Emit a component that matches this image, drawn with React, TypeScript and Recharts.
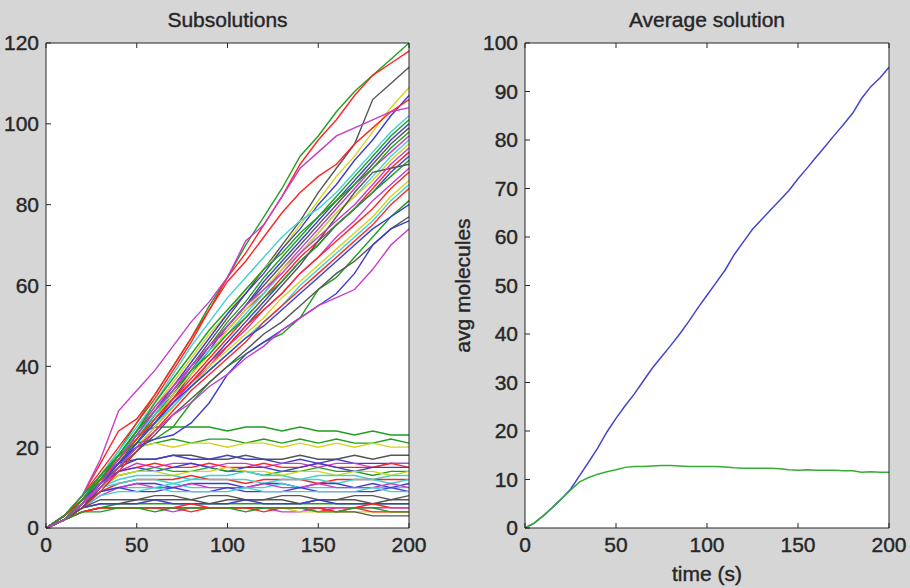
import React from 'react';
import { LineChart, Line, XAxis, YAxis } from 'recharts';

// sample times (s) for the individual runs
const times = [0, 10, 20, 30, 40, 50, 60, 70, 80, 90, 100, 110, 120, 130, 140, 150, 160, 170, 180, 190, 200];

// runs that keep growing
const risingRuns: number[][] = [
  [0, 2, 7, 13, 19, 26, 33, 40, 47, 55, 62, 70, 77, 84, 92, 97, 103, 108, 112, 116, 120],
  [0, 3, 8, 14, 20, 26, 32, 39, 46, 54, 62, 68, 75, 82, 90, 96, 101, 107, 112, 115, 118],
  [0, 2, 6, 11, 16, 22, 28, 34, 40, 46, 52, 58, 64, 70, 76, 83, 89, 95, 106, 110, 114],
  [0, 3, 7, 12, 18, 24, 30, 36, 42, 48, 53, 59, 64, 69, 75, 81, 87, 92, 98, 104, 109],
  [0, 2, 6, 12, 17, 23, 29, 35, 41, 47, 53, 58, 63, 69, 74, 80, 85, 91, 96, 102, 107],
  [0, 3, 8, 16, 24, 27, 33, 40, 47, 54, 61, 66, 72, 78, 83, 87, 90, 95, 99, 103, 106],
  [0, 3, 8, 17, 29, 34, 39, 45, 51, 56, 62, 71, 75, 82, 89, 93, 97, 99, 101, 103, 104],
  [0, 2, 7, 13, 19, 25, 31, 38, 45, 51, 57, 62, 67, 72, 76, 79, 83, 88, 93, 98, 102],
  [0, 2, 6, 11, 17, 22, 28, 33, 39, 45, 51, 56, 62, 67, 72, 77, 82, 87, 92, 97, 101],
  [0, 3, 7, 12, 16, 21, 27, 32, 38, 44, 50, 55, 61, 66, 71, 76, 81, 86, 91, 96, 100],
  [0, 2, 5, 10, 15, 21, 27, 33, 39, 45, 50, 55, 60, 65, 70, 75, 80, 85, 90, 95, 99],
  [0, 2, 6, 12, 18, 24, 30, 35, 40, 45, 49, 54, 58, 64, 69, 74, 79, 84, 89, 93, 97],
  [0, 3, 8, 13, 18, 23, 28, 34, 39, 44, 48, 53, 58, 63, 68, 73, 78, 82, 87, 92, 96],
  [0, 2, 7, 12, 17, 22, 27, 33, 38, 43, 49, 54, 59, 64, 68, 73, 78, 82, 86, 91, 95],
  [0, 2, 6, 11, 16, 21, 26, 32, 37, 42, 47, 52, 57, 62, 67, 71, 75, 79, 84, 89, 93],
  [0, 3, 7, 11, 16, 21, 26, 31, 36, 41, 46, 51, 56, 61, 66, 70, 75, 79, 83, 88, 92],
  [0, 2, 7, 13, 18, 24, 29, 34, 39, 43, 48, 52, 57, 61, 66, 70, 75, 79, 83, 87, 91],
  [0, 2, 6, 11, 15, 20, 25, 30, 35, 40, 45, 50, 55, 60, 65, 71, 77, 83, 88, 89, 90],
  [0, 2, 6, 11, 16, 21, 26, 31, 36, 40, 45, 49, 54, 58, 63, 67, 72, 76, 81, 85, 89],
  [0, 3, 7, 12, 17, 22, 27, 32, 36, 41, 45, 50, 54, 58, 63, 67, 71, 75, 79, 84, 88],
  [0, 2, 6, 10, 15, 20, 25, 30, 35, 40, 44, 48, 52, 57, 61, 65, 69, 73, 77, 82, 86],
  [0, 2, 6, 11, 16, 21, 26, 30, 35, 39, 43, 47, 51, 55, 60, 64, 68, 72, 76, 81, 85],
  [0, 2, 5, 9, 14, 19, 24, 29, 34, 38, 42, 46, 51, 55, 59, 63, 67, 71, 75, 80, 84],
  [0, 3, 8, 13, 18, 21, 22, 25, 31, 36, 40, 43, 46, 48, 52, 59, 62, 67, 72, 77, 81],
  [0, 2, 6, 11, 16, 21, 26, 31, 35, 39, 43, 47, 50, 54, 58, 62, 66, 70, 74, 77, 80],
  [0, 2, 5, 10, 15, 19, 23, 28, 32, 36, 40, 44, 48, 51, 55, 59, 63, 66, 70, 74, 77],
  [0, 2, 6, 11, 16, 20, 22, 23, 26, 31, 38, 43, 46, 49, 52, 55, 58, 63, 70, 74, 76],
  [0, 2, 6, 10, 15, 20, 24, 28, 31, 35, 38, 42, 45, 49, 52, 55, 57, 59, 64, 70, 74],
  [0, 2, 7, 12, 18, 24, 31, 37, 43, 49, 54, 59, 64, 68, 73, 77, 81, 85, 89, 94, 98],
  [0, 2, 6, 11, 17, 23, 29, 34, 40, 45, 50, 55, 59, 63, 68, 72, 76, 80, 85, 90, 94],
];
const risingColors = ['g', 'r', 'k', 'y', 'b', 'r', 'm', 'c', 'g', 'b', 'k', 'm', 'c', 'y', 'r', 'b', 'g', 'k', 'm', 'r', 'y', 'c', 'r', 'g', 'b', 'k', 'b', 'm', 'g', 'm'];

// runs that level off
const plateauRuns: number[][] = [
  [0, 3, 7, 12, 18, 23, 25, 25, 25, 25, 24, 25, 25, 24, 25, 24, 24, 23, 24, 23, 23],
  [0, 2, 6, 11, 16, 20, 21, 22, 21, 22, 22, 21, 22, 21, 22, 21, 22, 21, 21, 22, 21],
  [0, 2, 7, 12, 17, 20, 21, 20, 21, 21, 20, 21, 21, 20, 21, 20, 21, 20, 21, 20, 20],
  [0, 3, 7, 12, 16, 17, 17, 18, 18, 17, 17, 18, 17, 17, 18, 17, 17, 18, 17, 18, 18],
  [0, 2, 6, 11, 15, 17, 17, 18, 17, 17, 18, 17, 17, 16, 17, 16, 17, 16, 16, 16, 16],
  [0, 2, 6, 10, 14, 16, 15, 16, 16, 15, 16, 16, 15, 16, 16, 15, 16, 16, 15, 16, 16],
  [0, 2, 6, 11, 14, 15, 16, 15, 15, 16, 15, 15, 16, 15, 15, 16, 15, 15, 15, 16, 15],
  [0, 3, 7, 11, 14, 15, 14, 15, 16, 15, 14, 15, 15, 14, 15, 16, 15, 14, 15, 15, 15],
  [0, 2, 6, 10, 13, 14, 15, 14, 14, 15, 14, 14, 13, 14, 14, 15, 14, 14, 13, 14, 14],
  [0, 2, 5, 10, 13, 14, 14, 13, 14, 14, 15, 14, 14, 13, 14, 14, 13, 14, 14, 13, 14],
  [0, 2, 6, 10, 12, 13, 13, 13, 12, 13, 13, 14, 13, 13, 12, 13, 13, 13, 12, 13, 13],
  [0, 2, 6, 9, 11, 12, 12, 12, 13, 12, 12, 11, 12, 12, 12, 11, 12, 12, 12, 12, 12],
  [0, 3, 7, 10, 11, 12, 12, 11, 12, 12, 12, 12, 11, 12, 12, 12, 11, 12, 12, 11, 12],
  [0, 2, 5, 9, 10, 11, 11, 10, 11, 11, 11, 10, 11, 11, 10, 11, 11, 10, 11, 10, 11],
  [0, 2, 6, 9, 10, 10, 10, 11, 10, 10, 10, 10, 10, 11, 10, 10, 10, 10, 10, 10, 10],
  [0, 2, 5, 8, 10, 11, 10, 10, 11, 10, 10, 10, 11, 10, 10, 11, 10, 10, 10, 11, 10],
  [0, 2, 6, 9, 10, 9, 9, 10, 9, 9, 10, 9, 9, 9, 10, 9, 9, 9, 9, 10, 9],
  [0, 2, 5, 8, 9, 9, 10, 9, 9, 9, 9, 10, 9, 9, 9, 9, 9, 9, 10, 9, 9],
  [0, 2, 5, 7, 7, 7, 8, 8, 7, 8, 8, 7, 7, 8, 8, 7, 7, 8, 8, 7, 8],
  [0, 2, 5, 6, 6, 7, 7, 7, 7, 6, 7, 7, 7, 7, 6, 7, 7, 7, 6, 7, 7],
  [0, 2, 4, 5, 6, 6, 6, 6, 6, 6, 6, 6, 6, 6, 6, 6, 6, 6, 6, 6, 6],
  [0, 2, 5, 6, 6, 6, 7, 6, 6, 6, 6, 7, 6, 6, 6, 7, 6, 6, 6, 6, 6],
  [0, 2, 4, 5, 5, 5, 5, 5, 6, 5, 5, 5, 5, 5, 5, 4, 5, 5, 6, 5, 5],
  [0, 2, 4, 5, 5, 5, 5, 4, 5, 5, 5, 5, 5, 4, 4, 5, 5, 5, 5, 5, 5],
  [0, 2, 4, 5, 5, 5, 5, 5, 5, 5, 5, 5, 5, 5, 4, 4, 4, 4, 4, 4, 4],
  [0, 2, 4, 5, 5, 5, 5, 5, 5, 5, 5, 5, 5, 5, 5, 5, 4, 4, 3, 3, 3],
  [0, 2, 4, 5, 5, 5, 5, 5, 4, 5, 5, 5, 4, 5, 5, 5, 4, 5, 4, 4, 4],
  [0, 2, 4, 4, 5, 5, 4, 5, 5, 5, 5, 4, 5, 5, 5, 4, 4, 5, 5, 4, 4],
];
const plateauColors = ['g', 'g', 'y', 'k', 'b', 'm', 'r', 'b', 'g', 'y', 'c', 'r', 'c', 'b', 'c', 'm', 'b', 'c', 'k', 'k', 'g', 'b', 'r', 'm', 'y', 'k', 'r', 'g'];

// average curves, every 5 s
const avgTimes = [0, 5, 10, 15, 20, 25, 30, 35, 40, 45, 50, 55, 60, 65, 70, 75, 80, 85, 90, 95, 100, 105, 110, 115, 120, 125, 130, 135, 140, 145, 150, 155, 160, 165, 170, 175, 180, 185, 190, 195, 200];
const avgRising = [0, 1, 2.5, 4.2, 6, 8, 10.8, 13.6, 16.5, 19.8, 22.6, 25.2, 27.6, 30.3, 33, 35.3, 37.6, 40, 42.6, 45.4, 48, 50.6, 53.2, 56.4, 59, 61.6, 63.6, 65.6, 67.6, 69.6, 72, 74.2, 76.5, 78.7, 81, 83.2, 85.5, 88.6, 91, 92.8, 95];
const avgPlateau = [0, 1, 2.5, 4.2, 6, 7.8, 9.5, 10.4, 11.1, 11.6, 12, 12.5, 12.7, 12.7, 12.8, 12.9, 12.9, 12.8, 12.7, 12.7, 12.7, 12.7, 12.6, 12.4, 12.3, 12.3, 12.3, 12.3, 12.2, 12, 11.9, 12, 11.9, 11.9, 11.9, 11.8, 11.8, 11.5, 11.6, 11.5, 11.5];

const xTicks = [0, 50, 100, 150, 200];
const leftYTicks = [0, 20, 40, 60, 80, 100, 120];
const rightYTicks = [0, 10, 20, 30, 40, 50, 60, 70, 80, 90, 100];

const palette: Record<string, string> = {
  b: '#3d3dd0',
  g: '#1f9e1f',
  r: '#ff2424',
  c: '#40d2d2',
  m: '#c83cc8',
  y: '#d4d41c',
  k: '#555555',
};

const FONT = '"Liberation Sans", Arial, Helvetica, sans-serif';
const INK = '#262626';
const tickStyle = { fill: INK, fontSize: 21, fontFamily: FONT, stroke: INK, strokeWidth: 0.4 };

const runRows = times.map((t, i) => {
  const row: Record<string, number> = { t };
  risingRuns.forEach((run, k) => { row['r' + k] = run[i]; });
  plateauRuns.forEach((run, k) => { row['p' + k] = run[i]; });
  return row;
});

const avgRows = avgTimes.map((t, i) => ({ t, rising: avgRising[i], plateau: avgPlateau[i] }));

// matlab style box: inward ticks on all four sides
const frame = (yMax: number, yTicks: number[], leftW: number) => [
  <XAxis key="xb" dataKey="t" type="number" domain={[0, 200]} ticks={xTicks} height={60}
    tick={tickStyle} tickSize={-5} tickMargin={14}
    axisLine={{ stroke: INK }} tickLine={{ stroke: INK }} />,
  <XAxis key="xt" xAxisId="top" orientation="top" dataKey="t" type="number" domain={[0, 200]} ticks={xTicks}
    height={1} tickSize={-5} tickFormatter={() => ''}
    axisLine={{ stroke: INK }} tickLine={{ stroke: INK }} />,
  <YAxis key="yl" type="number" domain={[0, yMax]} ticks={yTicks} width={leftW}
    tick={tickStyle} tickSize={-5} tickMargin={12}
    axisLine={{ stroke: INK }} tickLine={{ stroke: INK }} />,
  <YAxis key="yr" yAxisId="right" orientation="right" type="number" domain={[0, yMax]} ticks={yTicks}
    width={1} tickSize={-5} tickFormatter={() => ''}
    axisLine={{ stroke: INK }} tickLine={{ stroke: INK }} />,
];

const text = (extra: React.CSSProperties): React.CSSProperties => ({
  position: 'absolute', fontFamily: FONT, fontSize: 21, color: INK, lineHeight: '21px',
  textAlign: 'center', whiteSpace: 'nowrap', WebkitTextStroke: '0.4px ' + INK, ...extra,
});

export default function App() {
  const order: { key: string; color: string }[] = [];
  const n = Math.max(risingRuns.length, plateauRuns.length);
  for (let i = 0; i < n; i++) {
    if (i < risingRuns.length) order.push({ key: 'r' + i, color: palette[risingColors[i]] });
    if (i < plateauRuns.length) order.push({ key: 'p' + i, color: palette[plateauColors[i]] });
  }

  return (
    <div style={{ position: 'absolute', left: 0, top: 0, width: 910, height: 588, background: '#d6d6d6', overflow: 'hidden' }}>
      <div style={{ position: 'absolute', left: 46, top: 43, width: 363, height: 485, background: '#fff' }} />
      <div style={{ position: 'absolute', left: 525, top: 43, width: 364, height: 485, background: '#fff' }} />

      <div style={text({ left: 46, width: 363, top: 9 })}>Subsolutions</div>
      <div style={text({ left: 525, width: 364, top: 9 })}>Average solution</div>
      <div style={text({ left: 525, width: 364, top: 563 })}>time (s)</div>
      <div style={text({ left: 462 - 100, width: 200, top: 275, transform: 'rotate(-90deg)' })}>avg molecules</div>

      <div style={{ position: 'absolute', left: 0, top: 0 }}>
        <LineChart width={460} height={588} data={runRows} margin={{ top: 42, left: 0, right: 50, bottom: 0 }}>
          {frame(120, leftYTicks, 46)}
          {order.map((s) => (
            <Line key={s.key} dataKey={s.key} type="linear" stroke={s.color} strokeWidth={1.4}
              dot={false} isAnimationActive={false} />
          ))}
        </LineChart>
      </div>

      <div style={{ position: 'absolute', left: 460, top: 0 }}>
        <LineChart width={450} height={588} data={avgRows} margin={{ top: 42, left: 0, right: 20, bottom: 0 }}>
          {frame(100, rightYTicks, 65)}
          <Line dataKey="rising" type="linear" stroke="#4646cc" strokeWidth={1.5} dot={false} isAnimationActive={false} />
          <Line dataKey="plateau" type="linear" stroke="#35ad35" strokeWidth={1.5} dot={false} isAnimationActive={false} />
        </LineChart>
      </div>
    </div>
  );
}
